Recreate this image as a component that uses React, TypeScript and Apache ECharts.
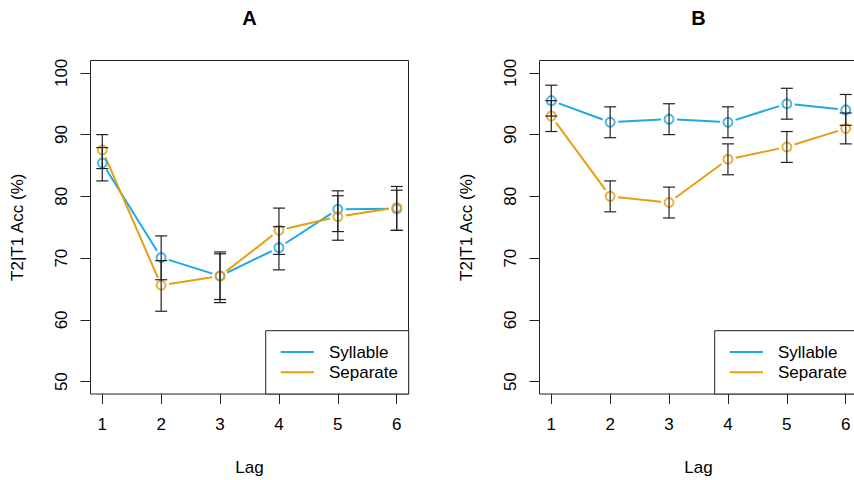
import React, { useEffect, useRef } from "react";
import * as echarts from "echarts";

// ---- data ----
const lags = [1, 2, 3, 4, 5, 6];
const xTicks = [1, 2, 3, 4, 5, 6];
const yTicks = [50, 60, 70, 80, 90, 100];
const panelTitles = ["A", "B"];
const seriesNames = ["Syllable", "Separate"];

// Panel A
const aSyllable = [85.4, 70.1, 67.1, 71.7, 77.9, 78.0];
const aSyllableLo = [82.5, 66.5, 63.3, 68.1, 74.3, 74.5];
const aSyllableHi = [87.9, 73.6, 71.0, 75.1, 80.9, 81.0];
const aSeparate = [87.5, 65.6, 67.1, 74.5, 76.7, 78.2];
const aSeparateLo = [84.5, 61.4, 62.8, 70.6, 72.9, 74.5];
const aSeparateHi = [90.0, 69.6, 70.7, 78.1, 80.1, 81.6];

// Panel B
const bSyllable = [95.5, 92.0, 92.5, 92.0, 95.0, 94.0];
const bSyllableLo = [93.0, 89.5, 90.0, 89.5, 92.5, 91.5];
const bSyllableHi = [98.0, 94.5, 95.0, 94.5, 97.5, 96.5];
const bSeparate = [93.0, 80.0, 79.0, 86.0, 88.0, 91.0];
const bSeparateLo = [90.5, 77.5, 76.5, 83.5, 85.5, 88.5];
const bSeparateHi = [95.5, 82.5, 81.5, 88.5, 90.5, 93.5];

const BLUE = "#1FA8E3";
const ORANGE = "#E69F12";
const INK = "#222222";
const FONT = "'Liberation Sans', Arial, Helvetica, sans-serif";

const GAP = 8;

function segRender(color: string) {
  return (params: any, api: any) => {
    const p1 = api.coord([api.value(0), api.value(1)]);
    const p2 = api.coord([api.value(2), api.value(3)]);
    const dx = p2[0] - p1[0];
    const dy = p2[1] - p1[1];
    const L = Math.hypot(dx, dy);
    if (L <= 2 * GAP) return null;
    const ux = dx / L;
    const uy = dy / L;
    return {
      type: "line",
      shape: {
        x1: p1[0] + ux * GAP,
        y1: p1[1] + uy * GAP,
        x2: p2[0] - ux * GAP,
        y2: p2[1] - uy * GAP,
      },
      style: { stroke: color, lineWidth: 2, lineCap: "butt" },
    };
  };
}

function errRender(params: any, api: any) {
  const x = api.value(0);
  const lo = api.coord([x, api.value(1)]);
  const hi = api.coord([x, api.value(2)]);
  const w = 6;
  const st = { stroke: INK, lineWidth: 1.2 };
  return {
    type: "group",
    children: [
      { type: "line", shape: { x1: lo[0], y1: lo[1], x2: hi[0], y2: hi[1] }, style: st },
      { type: "line", shape: { x1: lo[0] - w, y1: lo[1], x2: lo[0] + w, y2: lo[1] }, style: st },
      { type: "line", shape: { x1: hi[0] - w, y1: hi[1], x2: hi[0] + w, y2: hi[1] }, style: st },
    ],
  };
}

const segs = (vals: number[]) =>
  vals.slice(1).map((v, i) => [lags[i], vals[i], lags[i + 1], v]);
const pts = (vals: number[]) => vals.map((v, i) => [lags[i], v]);
const errs = (lo: number[], hi: number[]) => lo.map((l, i) => [lags[i], l, hi[i]]);

function buildPanel(
  idx: number,
  left: number,
  syl: number[], sylLo: number[], sylHi: number[],
  sep: number[], sepLo: number[], sepHi: number[]
) {
  const grid = {
    left,
    top: 60.5,
    width: 318,
    height: 333.5,
    show: true,
    borderColor: INK,
    borderWidth: 1,
    backgroundColor: "transparent",
    containLabel: false,
    outerBoundsMode: "none",
  };
  const xAxis = {
    type: "value",
    gridIndex: idx,
    min: 0.8,
    max: 6.2,
    name: "Lag",
    nameLocation: "middle",
    nameGap: 65,
    nameTextStyle: { fontFamily: FONT, fontSize: 17, color: "#000" },
    axisLine: { show: false },
    splitLine: { show: false },
    axisTick: { show: true, length: 10, inside: false, customValues: xTicks, lineStyle: { color: INK, width: 1 } },
    axisLabel: { customValues: xTicks, margin: 22, fontFamily: FONT, fontSize: 17, color: "#000" },
  };
  const yAxis = {
    type: "value",
    gridIndex: idx,
    min: 48,
    max: 102,
    name: "T2|T1 Acc (%)",
    nameLocation: "middle",
    nameRotate: 90,
    nameGap: 65,
    nameTextStyle: { fontFamily: FONT, fontSize: 17, color: "#000" },
    axisLine: { show: false },
    splitLine: { show: false },
    axisTick: { show: true, length: 10, inside: false, customValues: yTicks, lineStyle: { color: INK, width: 1 } },
    axisLabel: { customValues: yTicks, rotate: 90, margin: 21, fontFamily: FONT, fontSize: 17, color: "#000" },
  };
  const mk = (name: string, color: string, vals: number[], lo: number[], hi: number[]) => [
    {
      name,
      type: "custom",
      xAxisIndex: idx,
      yAxisIndex: idx,
      renderItem: segRender(color),
      encode: { x: [0, 2], y: [1, 3] },
      data: segs(vals),
      z: 2,
      silent: true,
    },
    {
      name,
      type: "scatter",
      xAxisIndex: idx,
      yAxisIndex: idx,
      symbol: "circle",
      symbolSize: 9,
      itemStyle: { color: "rgba(255,255,255,0)", borderColor: color, borderWidth: 2 },
      data: pts(vals),
      z: 3,
      silent: true,
    },
    {
      name: name + " SE",
      type: "custom",
      xAxisIndex: idx,
      yAxisIndex: idx,
      renderItem: errRender,
      encode: { x: 0, y: [1, 2] },
      data: errs(lo, hi),
      z: 5,
      silent: true,
    },
  ];
  const series = [
    ...mk(seriesNames[0], BLUE, syl, sylLo, sylHi),
    ...mk(seriesNames[1], ORANGE, sep, sepLo, sepHi),
  ];
  const center = left + 159;
  const graphics = [
    {
      type: "text",
      x: center,
      y: 17.5,
      z: 10,
      style: {
        text: panelTitles[idx],
        fontFamily: FONT,
        fontSize: 20,
        fontWeight: "bold",
        fill: "#000",
        align: "center",
        verticalAlign: "middle",
      },
    },
    {
      type: "rect",
      z: 10,
      shape: { x: left + 175.2, y: 330.7, width: 143, height: 63.3 },
      style: { fill: "#fff", stroke: INK, lineWidth: 1 },
    },
    {
      type: "line",
      z: 11,
      shape: { x1: left + 190.2, y1: 352, x2: left + 223.5, y2: 352 },
      style: { stroke: BLUE, lineWidth: 2 },
    },
    {
      type: "line",
      z: 11,
      shape: { x1: left + 190.2, y1: 372.3, x2: left + 223.5, y2: 372.3 },
      style: { stroke: ORANGE, lineWidth: 2 },
    },
    {
      type: "text",
      z: 11,
      x: left + 238.5,
      y: 352,
      style: { text: seriesNames[0], fontFamily: FONT, fontSize: 17, fill: "#000", align: "left", verticalAlign: "middle" },
    },
    {
      type: "text",
      z: 11,
      x: left + 238.5,
      y: 372.3,
      style: { text: seriesNames[1], fontFamily: FONT, fontSize: 17, fill: "#000", align: "left", verticalAlign: "middle" },
    },
  ];
  return { grid, xAxis, yAxis, series, graphics };
}

export default function App() {
  const ref = useRef<HTMLDivElement>(null);
  useEffect(() => {
    if (!ref.current) return;
    const chart = echarts.init(ref.current, undefined, { renderer: "svg", width: 854, height: 480 });
    const pa = buildPanel(0, 90.5, aSyllable, aSyllableLo, aSyllableHi, aSeparate, aSeparateLo, aSeparateHi);
    const pb = buildPanel(1, 539.5, bSyllable, bSyllableLo, bSyllableHi, bSeparate, bSeparateLo, bSeparateHi);
    chart.setOption({
      animation: false,
      backgroundColor: "#ffffff",
      textStyle: { fontFamily: FONT },
      grid: [pa.grid, pb.grid],
      xAxis: [pa.xAxis, pb.xAxis],
      yAxis: [pa.yAxis, pb.yAxis],
      series: [...pa.series, ...pb.series],
      graphic: [...pa.graphics, ...pb.graphics],
    } as any);
    return () => chart.dispose();
  }, []);
  return (
    <div
      ref={ref}
      style={{ position: "fixed", left: 0, top: 0, width: 854, height: 480, background: "#fff" }}
    />
  );
}
